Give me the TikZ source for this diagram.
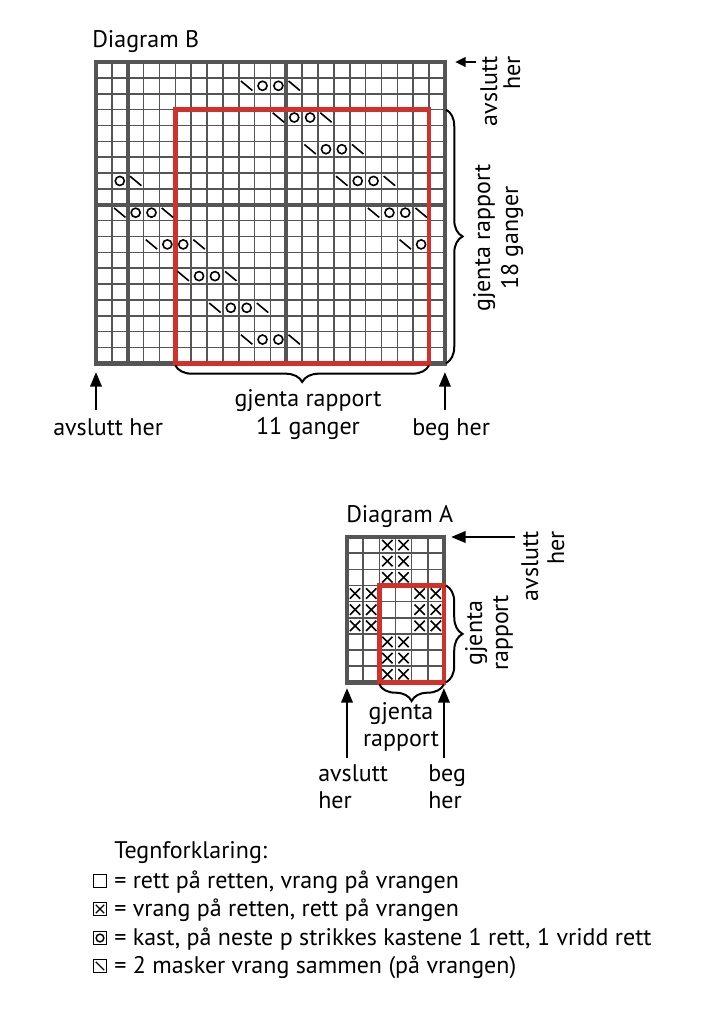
\documentclass[tikz,border=0pt]{standalone}
\usepackage{fontspec}
\setmainfont{PT Sans}
\usetikzlibrary{decorations.pathreplacing,arrows.meta}
\definecolor{gridgray}{HTML}{555555}
\definecolor{repred}{HTML}{D2302B}
\tikzset{
  gthin/.style={draw=gridgray,line width=1.2pt},
  gthick/.style={draw=gridgray,line width=3pt},
  gouter/.style={draw=gridgray,line width=3.6pt},
  redbox/.style={draw=repred,line width=3.6pt},
  sym/.style={draw=black,line width=1.2pt},
  legbox/.style={draw=black,line width=1.1pt},
  lbl/.style={inner sep=0pt,font=\fontsize{18}{22}\selectfont},
  arr/.style={draw=black,line width=2pt,-{Triangle[length=11pt,width=8.5pt]}},
  bracer/.style={draw=black,line width=1.5pt,decorate,decoration={brace,amplitude=12.5pt}},
}
\def\xB{96}\def\yB{62}\def\sB{15.86}
\def\xA{347}\def\yA{537}\def\sA{16.15}
\begin{document}
\begin{tikzpicture}[x=0.75pt,y=-0.75pt]
\useasboundingbox (0,0) rectangle (702,1024);
\fill[white] (0,0) rectangle (702,1024);

% ---------------- Diagram B ----------------
\node[lbl,anchor=base west] (titleB) at (92,48) {Diagram B};
\foreach \i in {1,...,21}
  \draw[gthin] ({\xB+\i*\sB},\yB) -- ({\xB+\i*\sB},{\yB+19*\sB});
\foreach \j in {1,...,18}
  \draw[gthin] (\xB,{\yB+\j*\sB}) -- ({\xB+22*\sB},{\yB+\j*\sB});
\draw[gthick] ({\xB+2*\sB},\yB) -- ({\xB+2*\sB},{\yB+19*\sB});
\draw[gthick] ({\xB+12*\sB},\yB) -- ({\xB+12*\sB},{\yB+19*\sB});
\draw[gthick] (\xB,{\yB+9*\sB}) -- ({\xB+22*\sB},{\yB+9*\sB});
\draw[gouter] (\xB,\yB) rectangle ({\xB+22*\sB},{\yB+19*\sB});
\draw[redbox] ({\xB+5*\sB},{\yB+3*\sB}) rectangle ({\xB+21*\sB},{\yB+19*\sB});
% decreases
\foreach \c/\r in {9/1,12/1,11/3,14/3,13/5,16/5,15/7,18/7,2/7,1/9,4/9,17/9,20/9,3/11,6/11,19/11,5/13,8/13,7/15,10/15,9/17,12/17}
  \draw[sym] ({\xB+(\c+0.14)*\sB},{\yB+(\r+0.2)*\sB}) -- ({\xB+(\c+0.86)*\sB},{\yB+(\r+0.8)*\sB});
% yarn overs
\foreach \c/\r in {10/1,11/1,12/3,13/3,14/5,15/5,16/7,17/7,1/7,2/9,3/9,18/9,19/9,4/11,5/11,20/11,6/13,7/13,8/15,9/15,10/17,11/17}
  \draw[sym] ({\xB+(\c+0.5)*\sB},{\yB+(\r+0.5)*\sB}) circle[radius=3.4pt];

% braces B
\coordinate (bRt) at ({\xB+22*\sB+1},{\yB+3*\sB});
\coordinate (bRb) at ({\xB+22*\sB+1},{\yB+19*\sB});
\draw[bracer] (bRt) -- (bRb);
\coordinate (bBr) at ({\xB+21*\sB},{\yB+19*\sB+2});
\coordinate (bBl) at ({\xB+5*\sB},{\yB+19*\sB+2});
\draw[bracer] (bBr) -- (bBl);
\node[lbl,anchor=base] (Bgj) at (308,406) {gjenta rapport};
\node[lbl,anchor=base] (B11) at (308,434) {11 ganger};
\node[lbl,anchor=base,rotate=90] (Bgjr) at (490,238) {gjenta rapport};
\node[lbl,anchor=base,rotate=90] (B18) at (518,238) {18 ganger};

% arrows B
\node[lbl,anchor=base west] (Bav) at (53,435) {avslutt her};
\node[lbl,anchor=base west] (Bbeg) at (412,435) {beg her};
\coordinate (BavS) at (96,410);
\coordinate (BavT) at (96,372);
\draw[arr] (BavS) -- (BavT);
\coordinate (BbegS) at ({\xB+22*\sB},410);
\coordinate (BbegT) at ({\xB+22*\sB},372);
\draw[arr] (BbegS) -- (BbegT);
\coordinate (BtopS) at (476,62);
\coordinate (BtopT) at (455,62);
\draw[arr,-{Triangle[length=8pt,width=7pt]}] (BtopS) -- (BtopT);
\node[lbl,anchor=base east,rotate=90] (Btav) at (497,56) {avslutt};
\node[lbl,anchor=base east,rotate=90] (Bther) at (520,56) {her};

% ---------------- Diagram A ----------------
\node[lbl,anchor=base west] (titleA) at (346,522) {Diagram A};
\foreach \i in {1,...,5}
  \draw[gthin] ({\xA+\i*\sA},\yA) -- ({\xA+\i*\sA},{\yA+9*\sA});
\foreach \j in {1,...,8}
  \draw[gthin] (\xA,{\yA+\j*\sA}) -- ({\xA+6*\sA},{\yA+\j*\sA});
\draw[gouter] (\xA,\yA) rectangle ({\xA+6*\sA},{\yA+9*\sA});
\draw[redbox] ({\xA+2*\sA},{\yA+3*\sA}) rectangle ({\xA+6*\sA},{\yA+9*\sA});
\foreach \c/\r in {2/0,3/0,2/1,3/1,2/2,3/2,0/3,1/3,4/3,5/3,0/4,1/4,4/4,5/4,0/5,1/5,4/5,5/5,2/6,3/6,2/7,3/7,2/8,3/8}{
  \draw[sym] ({\xA+(\c+0.18)*\sA},{\yA+(\r+0.18)*\sA}) -- ({\xA+(\c+0.82)*\sA},{\yA+(\r+0.82)*\sA});
  \draw[sym] ({\xA+(\c+0.18)*\sA},{\yA+(\r+0.82)*\sA}) -- ({\xA+(\c+0.82)*\sA},{\yA+(\r+0.18)*\sA});
}
% braces A
\coordinate (aRt) at ({\xA+6*\sA+2},{\yA+3*\sA});
\coordinate (aRb) at ({\xA+6*\sA+2},{\yA+9*\sA});
\draw[bracer] (aRt) -- (aRb);
\coordinate (aBr) at ({\xA+6*\sA},{\yA+9*\sA+2});
\coordinate (aBl) at ({\xA+2*\sA},{\yA+9*\sA+2});
\draw[bracer] (aBr) -- (aBl);
\node[lbl,anchor=base] (Agj) at (401,719) {gjenta};
\node[lbl,anchor=base] (Arap) at (401,746) {rapport};
\node[lbl,anchor=base,rotate=90] (Agjr) at (482,633) {gjenta};
\node[lbl,anchor=base,rotate=90] (Araps) at (508,633) {rapport};

% arrows A
\coordinate (AtopS) at (515,\yA);
\coordinate (AtopT) at (451,\yA);
\draw[arr] (AtopS) -- (AtopT);
\node[lbl,anchor=base east,rotate=90] (Atav) at (538,531) {avslutt};
\node[lbl,anchor=base east,rotate=90] (Ather) at (564,531) {her};
\coordinate (AavS) at (\xA,758);
\coordinate (AavT) at (\xA,688);
\draw[arr] (AavS) -- (AavT);
\coordinate (AbegS) at ({\xA+6*\sA},758);
\coordinate (AbegT) at ({\xA+6*\sA},688);
\draw[arr] (AbegS) -- (AbegT);
\node[lbl,anchor=base west] (Aav) at (318,781) {avslutt};
\node[lbl,anchor=base west] (Aavh) at (318,808) {her};
\node[lbl,anchor=base west] (Abeg) at (428,781) {beg};
\node[lbl,anchor=base west] (Abegh) at (428,808) {her};

% ---------------- Legend ----------------
\node[lbl,anchor=base west] (leg) at (114,858) {Tegnforklaring:};
\node[lbl,anchor=base west] (l1) at (114,888) {= rett på retten, vrang på vrangen};
\node[lbl,anchor=base west] (l2) at (114,916) {= vrang på retten, rett på vrangen};
\node[lbl,anchor=base west] (l3) at (114,945) {= kast, på neste p strikkes kastene 1 rett, 1 vridd rett};
\node[lbl,anchor=base west] (l4) at (114,973) {= 2 masker vrang sammen (på vrangen)};
\def\bx{100}\def\bh{6.5}
\draw[legbox] ({\bx-\bh},{888-7-\bh}) rectangle ({\bx+\bh},{888-7+\bh});
\draw[legbox] ({\bx-\bh},{916-7-\bh}) rectangle ({\bx+\bh},{916-7+\bh});
\draw[sym,line width=0.9pt] ({\bx-\bh+2.3},{916-7-\bh+2.3}) -- ({\bx+\bh-2.3},{916-7+\bh-2.3});
\draw[sym,line width=0.9pt] ({\bx-\bh+2.3},{916-7+\bh-2.3}) -- ({\bx+\bh-2.3},{916-7-\bh+2.3});
\draw[legbox] ({\bx-\bh},{945-7-\bh}) rectangle ({\bx+\bh},{945-7+\bh});
\draw[sym,line width=1.1pt] (\bx,{945-7}) circle[radius=2.9pt];
\draw[legbox] ({\bx-\bh},{973-7-\bh}) rectangle ({\bx+\bh},{973-7+\bh});
\draw[sym,line width=0.9pt] ({\bx-\bh+2.3},{973-7-\bh+2.3}) -- ({\bx+\bh-2.3},{973-7+\bh-2.3});
\end{tikzpicture}
\end{document}
